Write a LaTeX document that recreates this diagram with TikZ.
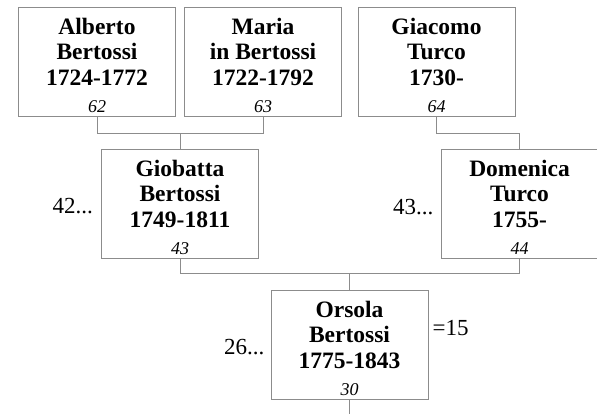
\documentclass[tikz,border=0pt]{standalone}
\usepackage{fontspec}
\setmainfont{Liberation Serif}
\usepackage{xcolor}
\usetikzlibrary{positioning}
\definecolor{boxgray}{gray}{0.55}

\begin{document}
\begin{tikzpicture}[x=1pt,y=-1pt,
                    person/.style = {draw=boxgray, line width=1pt, minimum width=157pt, minimum height=109pt,
                                     align=center, inner sep=2pt,
                                     font=\bfseries\fontsize{23.5}{25.5}\selectfont},
                    side/.style = {font=\fontsize{23}{25}\selectfont, inner sep=0pt},
                    link/.style = {draw=boxgray, line width=1pt}]
                \useasboundingbox (0,0) rectangle (597,413);
                % grandparents
                \node[person] (alberto) at (97,61.5) {\rule{0pt}{24pt}Alberto\\Bertossi\\1724-1772\\[2pt]{\mdseries\itshape\fontsize{18}{21}\selectfont 62}};
                \node[person, right=8pt of alberto] (maria) {\rule{0pt}{24pt}Maria\\in Bertossi\\1722-1792\\[2pt]{\mdseries\itshape\fontsize{18}{21}\selectfont 63}};
                \node[person] (giacomo) at (436.5,61.5) {\rule{0pt}{24pt}Giacomo\\Turco\\1730-\\[2pt]{\mdseries\itshape\fontsize{18}{21}\selectfont 64}};
                % parents
                \node[person] (giobatta) at (180,203.5) {\rule{0pt}{24pt}Giobatta\\Bertossi\\1749-1811\\[2pt]{\mdseries\itshape\fontsize{18}{21}\selectfont 43}};
                \node[person] (domenica) at (519.5,203.5) {\rule{0pt}{24pt}Domenica\\Turco\\1755-\\[2pt]{\mdseries\itshape\fontsize{18}{21}\selectfont 44}};
                % child
                \node[person] (orsola) at (349.5,344.5) {\rule{0pt}{24pt}Orsola\\Bertossi\\1775-1843\\[2pt]{\mdseries\itshape\fontsize{18}{21}\selectfont 30}};
                \node[side, left=8pt of giobatta, yshift=-3pt] (n42) {42...};
                \node[side, left=7pt of domenica, yshift=-4pt] (n43) {43...};
                \node[side, left=6pt of orsola, yshift=-3pt] (n26) {26...};
                \node[side, anchor=west] (n15) at ([xshift=4pt, yshift=16pt]orsola.east) {=15};
                % connectors
                \path (alberto.south) ++(0,17) coordinate (j1);
                \draw[link] (alberto.south) -- (j1) -| (maria.south);
                \draw[link] (giobatta.north) -- (giobatta.north |- j1);
                \draw[link] (giacomo.south) -- ++(0,17) -| (domenica.north);
                \path (giobatta.south) ++(0,15) coordinate (j2);
                \draw[link] (giobatta.south) -- (j2) -| (domenica.south);
                \draw[link] (orsola.north) -- (orsola.north |- j2);
                \draw[link] (orsola.south) -- ++(0,16) coordinate (down);
                \end{tikzpicture}
\end{document}
